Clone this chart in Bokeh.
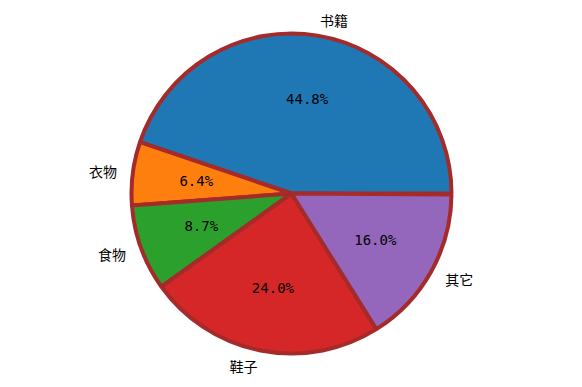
import math
from bokeh.plotting import figure
from bokeh.models import ColumnDataSource, Range1d
from bokeh.core.properties import value
from bokeh.embed import file_html
from bokeh.resources import INLINE

labels = ["书籍", "衣物", "食物", "鞋子", "其它"]
fractions = [0.448, 0.064, 0.087, 0.240, 0.160]
colors = ["#1f77b4", "#ff7f0e", "#2ca02c", "#d62728", "#9467bd"]

W, H = 582, 387
R_PX = 160.0
cx_px, cy_px = 291.0, 193.0

p = figure(width=W, height=H, output_backend="svg", toolbar_location=None,
           min_border=0, x_axis_type=None, y_axis_type=None)
p.x_range = Range1d(-cx_px / R_PX, (W - cx_px) / R_PX)
p.y_range = Range1d(-(H - cy_px) / R_PX, cy_px / R_PX)
p.grid.visible = False
p.outline_line_color = None
p.background_fill_color = "white"
p.border_fill_color = "white"

starts, ends = [], []
acc = 0.0
for f in fractions:
    starts.append(2 * math.pi * acc)
    acc += f
    ends.append(2 * math.pi * acc)

src = ColumnDataSource(dict(start=starts, end=ends, color=colors))
p.wedge(x=0, y=0, radius=1.0, start_angle="start", end_angle="end",
        fill_color="color", line_color="#a52a2a", line_width=4,
        direction="anticlock", source=src)

lx, ly, la, px_, py_, ptxt = [], [], [], [], [], []
for s, e, f in zip(starts, ends, fractions):
    m = (s + e) / 2
    x = 1.1 * math.cos(m)
    y = 1.1 * math.sin(m)
    lx.append(x)
    ly.append(y)
    la.append("left" if x > 0 else "right")
    px_.append(0.6 * math.cos(m))
    py_.append(0.6 * math.sin(m))
    ptxt.append("%.1f%%" % (f * 100))

p.text(x=lx, y=ly, text=labels, text_align=la, text_baseline="middle",
       text_font=value("Noto Sans CJK SC"), text_font_size="14px", text_color="black")
p.text(x=px_, y=py_, text=ptxt, text_align="center", text_baseline="middle",
       text_font=value("DejaVu Sans Mono"), text_font_size="14px", text_color="black")

open("out.html", "w").write(file_html(p, INLINE))
